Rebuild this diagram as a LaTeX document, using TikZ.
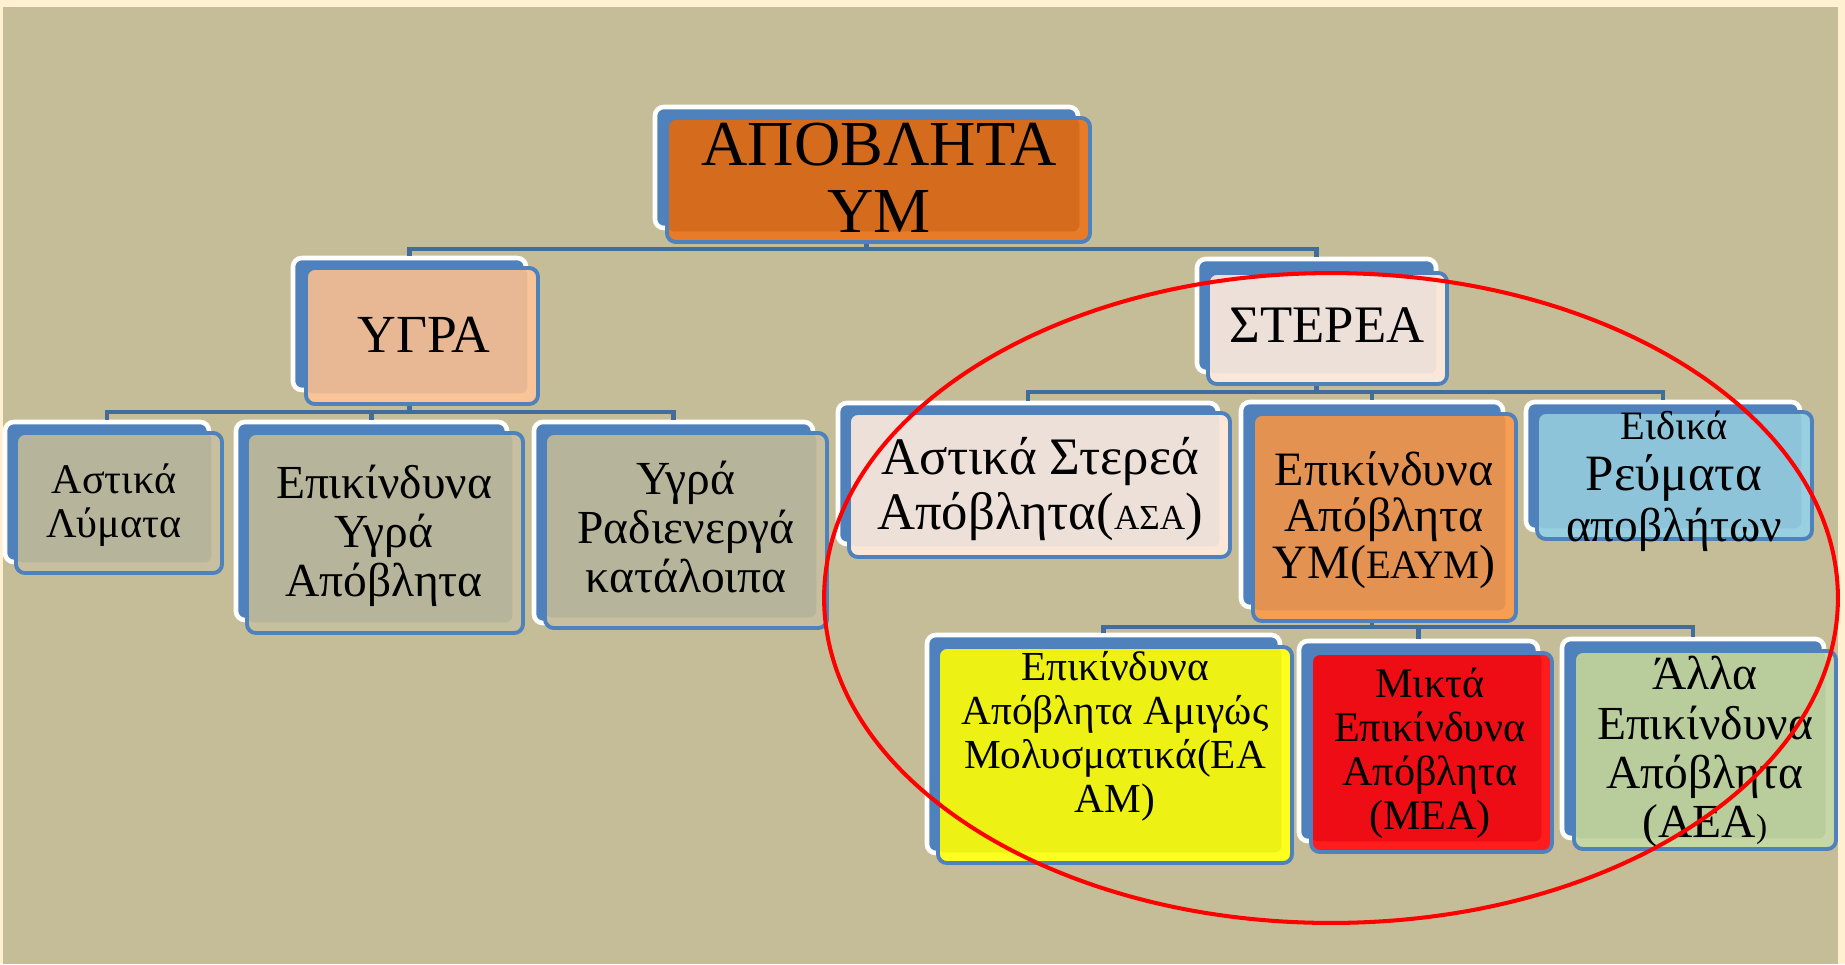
\documentclass[tikz,border=0pt]{standalone}
\usepackage{fontspec}
\setmainfont{Liberation Serif}
\usetikzlibrary{fit}
\definecolor{tanbg}{HTML}{C5BD97}
\definecolor{cream}{HTML}{FFF0D2}
\definecolor{boxblue}{HTML}{4F81BD}
\definecolor{linkblue}{HTML}{416C9E}
\definecolor{toporange}{HTML}{D56B1D}
\definecolor{toporangel}{HTML}{E87B28}
\definecolor{ugrapeach}{HTML}{E8B794}
\definecolor{ugrapeachl}{HTML}{F9C497}
\definecolor{olivegray}{HTML}{B6B49A}
\definecolor{olivegrayl}{HTML}{C7BF9F}
\definecolor{paleskin}{HTML}{EDE0D8}
\definecolor{paleskinl}{HTML}{FBE7D7}
\definecolor{eaymorange}{HTML}{E39252}
\definecolor{eaymorangel}{HTML}{F79E52}
\definecolor{skyblue}{HTML}{8DC4DA}
\definecolor{skybluel}{HTML}{98CFE1}
\definecolor{eayellow}{HTML}{EEF214}
\definecolor{eayellowl}{HTML}{FDFD1E}
\definecolor{mixred}{HTML}{EE0D14}
\definecolor{mixredl}{HTML}{FF1C1C}
\definecolor{sagegreen}{HTML}{B9CC9B}
\definecolor{sagegreenl}{HTML}{C6D7A7}

\begin{document}
\begin{tikzpicture}[
    x=0.02cm, y=-0.02cm,
    backbox/.style={draw=white, line width=2.6pt, fill=boxblue, rounded corners=5pt, inner sep=0pt},
    frontbox/.style 2 args={draw=boxblue, line width=2.2pt, rounded corners=5pt, inner sep=0pt, fill=#2,
        path picture={\fill[#1, rounded corners=4pt] (path picture bounding box.north west) rectangle ([xshift=-6pt, yshift=6pt]path picture bounding box.south east);}},
    link/.style={draw=linkblue, line width=2.6pt},
    boxtext/.style={align=center, inner sep=0pt, text=black}
]

% background with the pale frame
\fill[cream] (0,0) rectangle (1845,964);
\fill[tanbg] (3,7) rectangle (1838,964);
\useasboundingbox (0,0) rectangle (1845,964);

% bus lines
\coordinate (bus-top) at (0,249);
\coordinate (bus-ugra) at (0,412);
\coordinate (bus-ster) at (0,392);
\coordinate (bus-eaym) at (0,627);

% Back boxes (blue with white rim)
\node[backbox, fit={(655,107) (1078,228)}] (top-b) {};
\node[backbox, fit={(293,258) (526,390)}] (ugra-b) {};
\node[backbox, fit={(5,422) (209,562)}] (lym-b) {};
\node[backbox, fit={(236,422) (507,620)}] (epy-b) {};
\node[backbox, fit={(534,422) (813,623)}] (rad-b) {};
\node[backbox, fit={(1197,259) (1436,372)}] (ster-b) {};
\node[backbox, fit={(838,403) (1218,544)}] (asa-b) {};
\node[backbox, fit={(1241,402) (1503,607)}] (eaym-b) {};
\node[backbox, fit={(1526,402) (1800,530)}] (eid-b) {};
\node[backbox, fit={(927,635) (1280,853)}] (eaam-b) {};
\node[backbox, fit={(1299,641) (1538,841)}] (mea-b) {};
\node[backbox, fit={(1562,639) (1824,838)}] (aea-b) {};

% Connectors
\draw[link] (top-b.center) -- (top-b.center |- bus-top);
\draw[link] (ugra-b.north) -- (ugra-b.center |- bus-top) -- (ster-b.center |- bus-top) -- (ster-b.north);
\draw[link] (ugra-b.south) -- (ugra-b.center |- bus-ugra);
\draw[link] (lym-b.north) -- (lym-b.center |- bus-ugra) -- (rad-b.center |- bus-ugra) -- (rad-b.north);
\draw[link] (epy-b.north) -- (epy-b.center |- bus-ugra);
\draw[link] (ster-b.south) -- (ster-b.center |- bus-ster);
\draw[link] (asa-b.north) -- (asa-b.center |- bus-ster) -- (eid-b.center |- bus-ster) -- (eid-b.north);
\draw[link] (eaym-b.north) -- (eaym-b.center |- bus-ster);
\draw[link] (eaym-b.south) -- (eaym-b.center |- bus-eaym);
\draw[link] (eaam-b.north) -- (eaam-b.center |- bus-eaym) -- (aea-b.center |- bus-eaym) -- (aea-b.north);
\draw[link] (mea-b.north) -- (mea-b.center |- bus-eaym);

% Front boxes (coloured, blue rim)
\node[frontbox={toporange}{toporangel}, fit={(667,118) (1090,242)}] (top-f) {};
\node[frontbox={ugrapeach}{ugrapeachl}, fit={(306,268) (538,404)}] (ugra-f) {};
\node[frontbox={olivegray}{olivegrayl}, fit={(16,433) (222,573)}] (lym-f) {};
\node[frontbox={olivegray}{olivegrayl}, fit={(247,433) (523,633)}] (epy-f) {};
\node[frontbox={olivegray}{olivegrayl}, fit={(545,433) (827,628)}] (rad-f) {};
\node[frontbox={paleskin}{paleskinl}, fit={(1208,273) (1447,384)}] (ster-f) {};
\node[frontbox={paleskin}{paleskinl}, fit={(849,413) (1230,557)}] (asa-f) {};
\node[frontbox={eaymorange}{eaymorangel}, fit={(1253,414) (1516,621)}] (eaym-f) {};
\node[frontbox={skyblue}{skybluel}, fit={(1537,412) (1812,539)}] (eid-f) {};
\node[frontbox={eayellow}{eayellowl}, fit={(938,647) (1292,863)}] (eaam-f) {};
\node[frontbox={mixred}{mixredl}, fit={(1311,653) (1552,852)}] (mea-f) {};
\node[frontbox={sagegreen}{sagegreenl}, fit={(1574,651) (1836,849)}] (aea-f) {};

% Texts
\node[boxtext, font=\fontsize{36.5}{38}\selectfont] (top-t) at (879,178) {ΑΠΟΒΛΗΤΑ\\ΥΜ};
\node[boxtext, font=\fontsize{30.5}{31}\selectfont] (ugra-t) at (424,335) {ΥΓΡΑ};
\node[boxtext, font=\fontsize{24}{25}\selectfont] (lym-t) at (114,505) {Αστικά\\Λύματα};
\node[boxtext, font=\fontsize{27}{28}\selectfont] (epy-t) at (384,536) {Επικίνδυνα\\Υγρά\\Απόβλητα};
\node[boxtext, font=\fontsize{27}{28}\selectfont] (rad-t) at (686,527) {Υγρά\\Ραδιενεργά\\κατάλοιπα};
\node[boxtext, font=\fontsize{30}{31}\selectfont] (ster-t) at (1327,325) {ΣΤΕΡΕΑ};
\node[boxtext, font=\fontsize{30}{31}\selectfont] (asa-t) at (1040,489) {Αστικά Στερεά\\Απόβλητα({\fontsize{20}{31}\selectfont ΑΣΑ})};
\node[boxtext, font=\fontsize{27.3}{26.5}\selectfont] (eaym-t) at (1384,520) {Επικίνδυνα\\Απόβλητα\\ΥΜ({\fontsize{23}{26.5}\selectfont ΕΑΥΜ})};
\node[boxtext, font=\fontsize{27}{29}\selectfont] (eid-t) at (1674,481) {{\fontsize{23}{29}\selectfont Ειδικά}\\{\fontsize{29}{29}\selectfont Ρεύματα}\\αποβλήτων};
\node[boxtext, font=\fontsize{23.5}{25}\selectfont] (eaam-t) at (1115,736) {Επικίνδυνα\\Απόβλητα Αμιγώς\\Μολυσματικά(ΕΑ\\ΑΜ)};
\node[boxtext, font=\fontsize{24}{25}\selectfont] (mea-t) at (1430,753) {Μικτά\\Επικίνδυνα\\Απόβλητα\\(ΜΕΑ)};
\node[boxtext, font=\fontsize{27}{28}\selectfont] (aea-t) at (1705,752) {Άλλα\\Επικίνδυνα\\Απόβλητα\\(ΑΕΑ{\fontsize{19}{28}\selectfont )}};

% Red ring round the solid waste branch
\draw[red, line width=2.3pt] (1331,598) ellipse [x radius=10.14cm, y radius=6.5cm];
\end{tikzpicture}
\end{document}
